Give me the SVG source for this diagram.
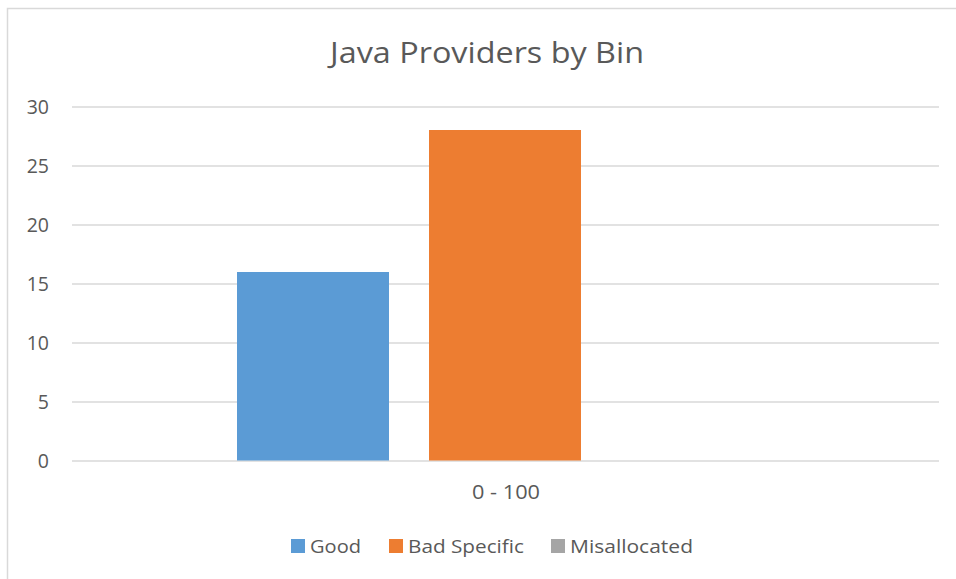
<svg xmlns="http://www.w3.org/2000/svg" width="956" height="579" viewBox="0 0 956 579">
<style>
.t{font-family:"Open Sans","Liberation Sans",sans-serif;fill:#595959}
.ax{font-size:19.5px;text-anchor:end}
.lg{font-size:19px}
.g{stroke:#d9d9d9;stroke-width:1.5}
</style>
<rect x="0" y="0" width="956" height="579" fill="#fff"/>
<rect x="7.5" y="8.5" width="960" height="590" fill="none" stroke="#d9d9d9" stroke-width="1.5"/>
<text class="t" x="487" y="63" font-size="30" text-anchor="middle" textLength="314" lengthAdjust="spacingAndGlyphs">Java Providers by Bin</text>
<g id="grid">
<line class="g" x1="72" y1="107" x2="939" y2="107"/>
<line class="g" x1="72" y1="166" x2="939" y2="166"/>
<line class="g" x1="72" y1="225" x2="939" y2="225"/>
<line class="g" x1="72" y1="284" x2="939" y2="284"/>
<line class="g" x1="72" y1="343" x2="939" y2="343"/>
<line class="g" x1="72" y1="402" x2="939" y2="402"/>
<line class="g" x1="72" y1="461" x2="939" y2="461"/>
</g>
<g id="yaxis">
<text class="t ax" x="49" y="114">30</text>
<text class="t ax" x="49" y="173">25</text>
<text class="t ax" x="49" y="232">20</text>
<text class="t ax" x="49" y="291">15</text>
<text class="t ax" x="49" y="350">10</text>
<text class="t ax" x="49" y="409">5</text>
<text class="t ax" x="49" y="468">0</text>
</g>
<g id="bars">
<rect id="bar-good" x="237" y="272" width="152" height="188.5" fill="#5b9bd5"/>
<rect id="bar-bad" x="429" y="130" width="152" height="330.5" fill="#ed7d31"/>
</g>
<text class="t" x="506" y="499" font-size="19.5" text-anchor="middle" textLength="68" lengthAdjust="spacingAndGlyphs">0 - 100</text>
<g id="legend">
<rect x="291" y="539" width="14" height="14" fill="#5b9bd5"/>
<text class="t lg" x="310" y="553" textLength="51" lengthAdjust="spacingAndGlyphs">Good</text>
<rect x="389" y="539" width="14" height="14" fill="#ed7d31"/>
<text class="t lg" x="408" y="553" textLength="116" lengthAdjust="spacingAndGlyphs">Bad Specific</text>
<rect x="551" y="539" width="14" height="14" fill="#a5a5a5"/>
<text class="t lg" x="570" y="553" textLength="123" lengthAdjust="spacingAndGlyphs">Misallocated</text>
</g>
</svg>
